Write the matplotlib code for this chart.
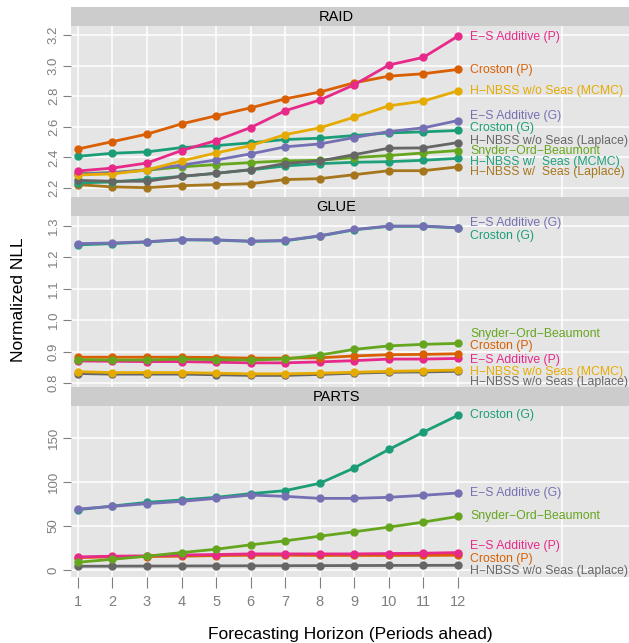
import matplotlib.pyplot as plt

plt.rcParams['font.family'] = ['Liberation Sans', 'DejaVu Sans']

horizon = list(range(1, 13))

colors = {
    "Croston (G)": "#1B9E77",
    "Croston (P)": "#D95F02",
    "E\u2212S Additive (G)": "#7570B3",
    "E\u2212S Additive (P)": "#E7298A",
    "Snyder\u2212Ord\u2212Beaumont": "#66A61E",
    "H\u2212NBSS w/o Seas (MCMC)": "#E6AB02",
    "H\u2212NBSS w/  Seas (Laplace)": "#A6761D",
    "H\u2212NBSS w/o Seas (Laplace)": "#666666",
    "H\u2212NBSS w/  Seas (MCMC)": "#1FA07A",
}

raid = {
    "H\u2212NBSS w/  Seas (Laplace)": [2.222, 2.207, 2.202, 2.215, 2.222, 2.228, 2.255, 2.261, 2.287, 2.313, 2.313, 2.338],
    "H\u2212NBSS w/  Seas (MCMC)": [2.233, 2.239, 2.257, 2.276, 2.296, 2.318, 2.344, 2.359, 2.368, 2.372, 2.381, 2.394],
    "Snyder\u2212Ord\u2212Beaumont": [2.294, 2.300, 2.316, 2.338, 2.353, 2.366, 2.377, 2.381, 2.399, 2.412, 2.429, 2.445],
    "H\u2212NBSS w/o Seas (Laplace)": [2.250, 2.244, 2.244, 2.276, 2.296, 2.320, 2.360, 2.377, 2.418, 2.460, 2.462, 2.497],
    "Croston (G)": [2.407, 2.427, 2.436, 2.464, 2.477, 2.495, 2.517, 2.525, 2.543, 2.560, 2.567, 2.576],
    "E\u2212S Additive (G)": [2.290, 2.300, 2.320, 2.350, 2.383, 2.423, 2.469, 2.488, 2.530, 2.569, 2.593, 2.641],
    "H\u2212NBSS w/o Seas (MCMC)": [2.285, 2.292, 2.318, 2.377, 2.429, 2.477, 2.549, 2.593, 2.663, 2.737, 2.768, 2.835],
    "Croston (P)": [2.455, 2.503, 2.552, 2.619, 2.672, 2.724, 2.783, 2.827, 2.888, 2.931, 2.947, 2.975],
    "E\u2212S Additive (P)": [2.311, 2.330, 2.363, 2.445, 2.510, 2.595, 2.705, 2.775, 2.875, 3.004, 3.054, 3.193],
}
raid_label_y = {
    "E\u2212S Additive (P)": 3.19, "Croston (P)": 2.97, "H\u2212NBSS w/o Seas (MCMC)": 2.833,
    "E\u2212S Additive (G)": 2.672, "Croston (G)": 2.591, "H\u2212NBSS w/o Seas (Laplace)": 2.508,
    "Snyder\u2212Ord\u2212Beaumont": 2.44, "H\u2212NBSS w/  Seas (MCMC)": 2.370,
    "H\u2212NBSS w/  Seas (Laplace)": 2.305,
}

glue = {
    "H\u2212NBSS w/o Seas (Laplace)": [0.830, 0.828, 0.828, 0.828, 0.826, 0.824, 0.824, 0.827, 0.831, 0.834, 0.835, 0.837],
    "H\u2212NBSS w/o Seas (MCMC)": [0.836, 0.833, 0.833, 0.833, 0.831, 0.829, 0.829, 0.831, 0.834, 0.837, 0.839, 0.841],
    "E\u2212S Additive (P)": [0.870, 0.869, 0.868, 0.868, 0.866, 0.864, 0.864, 0.867, 0.871, 0.876, 0.876, 0.878],
    "Croston (P)": [0.882, 0.882, 0.882, 0.882, 0.881, 0.879, 0.879, 0.880, 0.886, 0.890, 0.891, 0.893],
    "Snyder\u2212Ord\u2212Beaumont": [0.874, 0.873, 0.873, 0.876, 0.874, 0.873, 0.876, 0.889, 0.907, 0.918, 0.923, 0.926],
    "Croston (G)": [1.240, 1.244, 1.249, 1.256, 1.255, 1.251, 1.253, 1.268, 1.288, 1.299, 1.299, 1.294],
    "E\u2212S Additive (G)": [1.244, 1.246, 1.250, 1.257, 1.256, 1.252, 1.254, 1.269, 1.289, 1.300, 1.300, 1.295],
}
glue_label_y = {
    "E\u2212S Additive (G)": 1.311, "Croston (G)": 1.269, "Snyder\u2212Ord\u2212Beaumont": 0.955,
    "Croston (P)": 0.918, "E\u2212S Additive (P)": 0.872, "H\u2212NBSS w/o Seas (MCMC)": 0.834,
    "H\u2212NBSS w/o Seas (Laplace)": 0.802,
}

parts = {
    "H\u2212NBSS w/o Seas (Laplace)": [4.2, 4.3, 4.4, 4.5, 4.6, 4.7, 4.8, 4.9, 5.0, 5.1, 5.2, 5.3],
    "Croston (P)": [14.0, 14.8, 15.2, 15.6, 16.3, 16.7, 16.7, 16.5, 16.5, 16.5, 16.5, 16.7],
    "E\u2212S Additive (P)": [14.8, 15.6, 16.0, 17.0, 17.5, 18.2, 18.2, 18.2, 18.2, 18.6, 19.0, 19.7],
    "Snyder\u2212Ord\u2212Beaumont": [8.7, 12.1, 15.6, 19.7, 23.5, 28.5, 33.0, 38.3, 43.3, 48.6, 54.3, 60.7],
    "Croston (G)": [68.3, 72.5, 76.7, 79.4, 82.4, 86.6, 90.0, 98.3, 115.8, 136.7, 156.4, 175.4],
    "E\u2212S Additive (G)": [69.1, 72.1, 75.2, 77.8, 81.2, 85.0, 83.5, 81.2, 81.2, 82.4, 84.7, 87.3],
}
parts_label_y = {
    "Croston (G)": 175.4, "E\u2212S Additive (G)": 86.9, "Snyder\u2212Ord\u2212Beaumont": 60.7,
    "E\u2212S Additive (P)": 27.7, "Croston (P)": 12.5, "H\u2212NBSS w/o Seas (Laplace)": -1.1,
}

panels = [
    ("RAID", raid, raid_label_y, [2.2, 2.4, 2.6, 2.8, 3.0, 3.2], ["2.2", "2.4", "2.6", "2.8", "3.0", "3.2"], (2.141, 3.259)),
    ("GLUE", glue, glue_label_y, [0.8, 0.9, 1.0, 1.1, 1.2, 1.3], ["0.8", "0.9", "1.0", "1.1", "1.2", "1.3"], (0.787, 1.332)),
    ("PARTS", parts, parts_label_y, [0, 50, 100, 150], ["0", "50", "100", "150"], (-8, 186)),
]

fig = plt.figure(figsize=(6.29, 6.43), dpi=100)
W, H = 629, 643
left, right = 71, 629
panel_tops = [26, 216, 406]
panel_h = 171
strip_h = 19

for (name, data, label_y, yticks, ylabels, ylim), top in zip(panels, panel_tops):
    ax = fig.add_axes([left / W, 1 - (top + panel_h) / H, (right - left) / W, panel_h / H])
    ax.set_facecolor("#E5E5E5")
    for s in ax.spines.values():
        s.set_visible(False)
    ax.set_xlim(0.80, 16.95)
    ax.set_ylim(*ylim)
    ax.set_xticks(horizon + [15])
    ax.set_yticks(yticks)
    ax.set_yticklabels(ylabels, rotation=90, va="center", color="#7F7F7F", fontsize=9.5)
    ax.grid(True, color="white", linewidth=1.1)
    ax.set_axisbelow(True)
    ax.tick_params(axis="y", length=6, color="#7F7F7F", pad=2)
    for series, vals in data.items():
        c = colors[series]
        ax.plot(horizon, vals, color=c, linewidth=2.0, marker="o", markersize=5,
                solid_capstyle="round", zorder=3)
        ax.text(12.35, label_y[series], series, color=c, fontsize=8.8,
                va="center", ha="left", clip_on=False)
    if name == "PARTS":
        ax.set_xticklabels([str(h) for h in horizon] + [""], color="#7F7F7F", fontsize=10.5)
        ax.tick_params(axis="x", length=8, color="#7F7F7F", pad=5)
        ax.xaxis.get_major_ticks()[-1].tick1line.set_visible(False)
        ax.set_xlabel("Forecasting Horizon (Periods ahead)", fontsize=12.5, labelpad=13)
    else:
        ax.tick_params(axis="x", length=0, labelbottom=False)

    sax = fig.add_axes([left / W, 1 - top / H, (right - left) / W, strip_h / H])
    sax.set_facecolor("#CCCCCC")
    sax.set_xticks([])
    sax.set_yticks([])
    for s in sax.spines.values():
        s.set_visible(False)
    sax.text(0.475, 0.45, name, ha="center", va="center", fontsize=10.5, transform=sax.transAxes)

fig.text(19 / W, 1 - 300 / H, "Normalized NLL", rotation=90, ha="center", va="center", fontsize=12.5)

fig.savefig("out.png", dpi=100)
